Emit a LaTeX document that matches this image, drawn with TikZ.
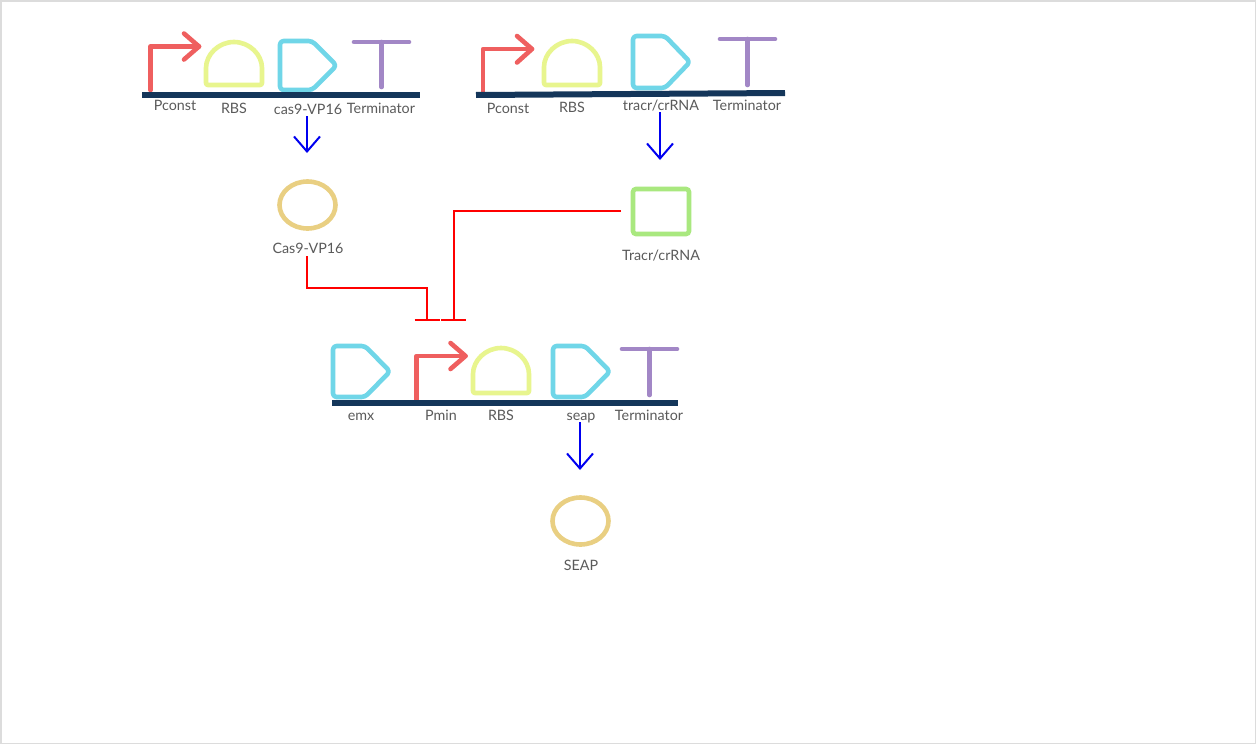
\documentclass[tikz,border=0pt]{standalone}
\usepackage{fontspec}
\setmainfont{Lato}
\usetikzlibrary{arrows.meta,shapes.geometric}
\definecolor{promred}{HTML}{EF5F5F}
\definecolor{rbsyellow}{HTML}{E8F58E}
\definecolor{cdsblue}{HTML}{70D6E8}
\definecolor{termpurple}{HTML}{A287C6}
\definecolor{dnadark}{HTML}{14365A}
\definecolor{ovalgold}{HTML}{E9CF82}
\definecolor{rectgreen}{HTML}{A9E87F}
\definecolor{labelgray}{HTML}{5A5A5A}
\definecolor{framegray}{HTML}{DCDCDC}
\definecolor{inhibred}{HTML}{FF0000}
\definecolor{exprblue}{HTML}{0000F0}
\tikzset{
  x=1pt,y=-1pt,
  glyph/.style={line width=4.6pt,line cap=round,line join=round,fill=none},
  dna/.style={draw=dnadark,line width=6pt},
  lbl/.style={font=\fontsize{14.3}{16}\selectfont,text=labelgray,inner sep=0pt,anchor=center,text height=10pt,text depth=0pt},
  expr/.style={color=exprblue,line width=2pt,-{Straight Barb[length=15pt,width=26pt,line width=2pt]}},
  inhib/.style={draw=inhibred,line width=2pt},
  tbar/.style={draw=inhibred,line width=1.2pt},
  oval/.style={ellipse,draw=ovalgold,line width=4.6pt,minimum width=56pt,minimum height=47pt,inner sep=0pt},
  complexbox/.style={rectangle,rounded corners=3pt,draw=rectgreen,line width=4.6pt,minimum width=56pt,minimum height=45pt,inner sep=0pt},
}
\newcommand{\promglyph}[6]{% x bottom top tip headtop headbottom
  \draw[glyph,draw=promred] (#1,#2) -- (#1,#3) -- (#4,#3);
  \draw[glyph,draw=promred] (#4-15,#5) -- (#4,#3) -- (#4-15,#6);
}
\newcommand{\rbsglyph}[4]{% left right top bottom
  \draw[glyph,draw=rbsyellow,rounded corners=2pt] (#1,#4) -- (#1,#3+28) arc[start angle=180,end angle=360,radius=28] -- (#2,#4) -- cycle;
}
\newcommand{\cdsglyph}[5]{% left shoulder tip top bottom
  \draw[glyph,draw=cdsblue,rounded corners=3.5pt] (#1,#4) -- (#2,#4) -- (#3+1,{(#4+#5)/2}) -- (#2,#5) -- (#1,#5) -- cycle;
}
\newcommand{\termglyph}[4]{% left right bar stembottom
  \draw[glyph,draw=termpurple] (#1,#3) -- (#2,#3);
  \draw[glyph,draw=termpurple] ({(#1+#2)/2},#3) -- ({(#1+#2)/2},#4);
}
\begin{document}
\begin{tikzpicture}
\useasboundingbox (0,0) rectangle (1256,744);
\fill[white] (0,0) rectangle (1256,744);
\draw[framegray,line width=1.5pt] (0.75,0.75) rectangle (1255.25,743.25);

% top left unit
\promglyph{150.5}{90}{46.5}{199}{33.5}{59.5}
\rbsglyph{206}{262}{42}{85}
\cdsglyph{280}{312}{335.5}{41}{90}
\termglyph{354}{409}{42}{87}
\draw[dna] (142,95) -- (420,95);
\node[lbl] (a1) at (175,105) {Pconst};
\node[lbl] (a2) at (234,108) {RBS};
\node[lbl] (a3) at (308,109) {cas9-VP16};
\node[lbl] (a4) at (381,108) {Terminator};

% top right unit
\promglyph{483}{92}{49}{532}{36}{62.5}
\rbsglyph{544}{600}{41}{85}
\cdsglyph{633}{665}{689}{36}{88}
\termglyph{720}{775}{39}{85}
\draw[dna] (476,95) -- (785,93);
\node[lbl] (b1) at (508,108) {Pconst};
\node[lbl] (b2) at (572,107) {RBS};
\node[lbl] (b3) at (661,105) {tracr/crRNA};
\node[lbl] (b4) at (747,105) {Terminator};

% bottom unit
\cdsglyph{333}{365}{389}{346}{397}
\promglyph{416.5}{400}{356}{465.5}{343}{369}
\rbsglyph{473}{529}{348}{393}
\cdsglyph{553}{585}{609}{346}{397}
\termglyph{622}{677}{349}{395}
\draw[dna] (332,403) -- (678,403);
\node[lbl] (c1) at (361,415) {emx};
\node[lbl] (c2) at (441,415) {Pmin};
\node[lbl] (c3) at (501,415) {RBS};
\node[lbl] (c4) at (581,415) {seap};
\node[lbl] (c5) at (649,415) {Terminator};

% species
\node[oval] (cas9) at (307.5,205) {};
\node[lbl] (cas9lbl) at (308,248) {Cas9-VP16};
\node[complexbox] (tracr) at (661,211.5) {};
\node[lbl] (tracrlbl) at (661,255) {Tracr/crRNA};
\node[oval] (seap) at (580.5,521) {};
\node[lbl] (seaplbl) at (581,565) {SEAP};

% connector ends
\coordinate (e1s) at (307,116);
\coordinate (e1t) at (307,153);
\coordinate (e2s) at (660,112);
\coordinate (e2t) at (660,160);
\coordinate (e3s) at (580,422);
\coordinate (e3t) at (580,470);
\coordinate (i1s) at (307,256);
\coordinate (i1m) at (427,288);
\coordinate (i1t) at (427,320);
\coordinate (i2s) at (621,211);
\coordinate (i2t) at (453.5,320);

\draw[expr] (e1s) -- (e1t);
\draw[expr] (e2s) -- (e2t);
\draw[expr] (e3s) -- (e3t);
\draw[inhib] (i1s) |- (i1m) -- (i1t);
\draw[inhib] (i2s) -| (i2t);
\draw[tbar] (i1t) ++(-12.5,0) -- ++(25,0);
\draw[tbar] (i2t) ++(-12.5,0) -- ++(25,0);
\end{tikzpicture}
\end{document}
